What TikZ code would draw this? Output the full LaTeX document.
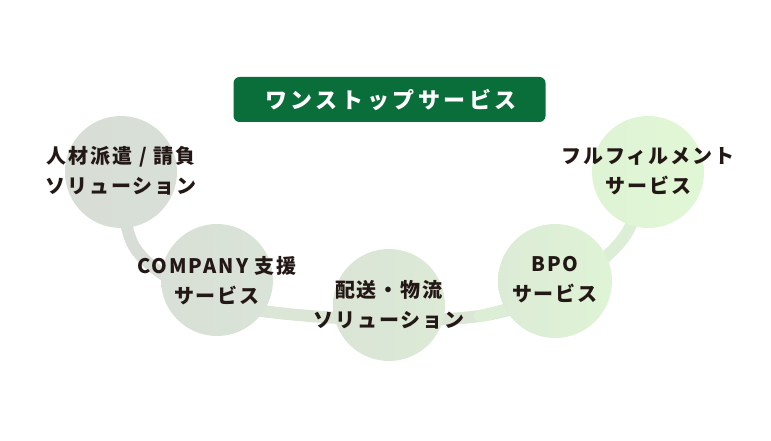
\documentclass[tikz,border=0pt]{standalone}
\usepackage{fontspec}
\newfontfamily\jp{Noto Sans CJK JP}[LetterSpace=10]
\newfontfamily\jpt{Noto Sans CJK JP}[LetterSpace=16]
\definecolor{boxgreen}{HTML}{0A6E3A}
\definecolor{txt}{HTML}{231815}
\definecolor{ca}{HTML}{D8DED6}
\definecolor{cb}{HTML}{D9E1D7}
\definecolor{cc}{HTML}{DBE6D6}
\definecolor{cd}{HTML}{DDEED6}
\definecolor{ce}{HTML}{E0F7D5}
\tikzset{
  bubble/.style={circle, minimum size=112pt, inner sep=0pt, draw=none},
  lbl/.style={font=\jp\bfseries\fontsize{20}{30}\selectfont, text=txt, align=center, inner sep=0pt},
  band/.style={line width=12pt, line cap=round},
}
\begin{document}
\begin{tikzpicture}[x=1pt,y=-1pt]
\useasboundingbox (0,0) rectangle (771,441);
% connectors
\draw[band, ca] plot[smooth, tension=0.6] coordinates {(121,175) (135,248) (200,295) (270,312)};
\draw[band, cc] plot[smooth, tension=0.6] coordinates {(200,295) (270,312) (389,320) (480,316) (540,300)};
\draw[band, cd] plot[smooth, tension=0.6] coordinates {(480,316) (555,292) (622,240) (648,175)};
% bubbles
\shade[left color=ca, right color=ca!60!cb] (121,172) circle (56);
\shade[left color=ca!40!cb, right color=cb!50!cc] (217,280) circle (56);
\shade[left color=cb!30!cc, right color=cc!50!cd] (389,305) circle (56);
\shade[left color=cc!40!cd, right color=cd!40!ce] (555,281) circle (57);
\shade[left color=cd!40!ce, right color=ce] (648,172) circle (56);
\node[bubble] (b1) at (121,172) {};
\node[bubble] (b2) at (217,280) {};
\node[bubble] (b3) at (389,305) {};
\node[bubble] (b4) at (555,281) {};
\node[bubble] (b5) at (648,172) {};
% labels
\node[lbl] (t1) at (121,171) {人材派遣 / 請負\\ソリューション};
\node[lbl] (t2) at (217,281) {COMPANY 支援\\サービス};
\node[lbl] (t3) at (389,305) {配送・物流\\ソリューション};
\node[lbl] (t4) at (555,280) {BPO\\サービス};
\node[lbl] (t5) at (648,171) {フルフィルメント\\サービス};
% title
\node[fill=boxgreen, rounded corners=6pt, minimum width=312pt, minimum height=45pt, inner sep=0pt] (title) at (389.5,99.5) {};
\node[font=\jpt\bfseries\fontsize{22}{24}\selectfont, text=white] (tt) at (391,100) {ワンストップサービス};
\end{tikzpicture}
\end{document}
